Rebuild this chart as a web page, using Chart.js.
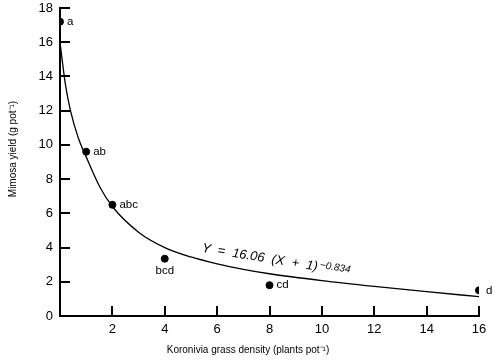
<!DOCTYPE html>
<html><head><meta charset="utf-8">
<script src="https://cdn.jsdelivr.net/npm/chart.js@4/dist/chart.umd.min.js"></script>
<style>html,body{margin:0;padding:0;background:#fff;}#wrap{width:500px;height:362px;}</style>
</head><body><div id="wrap"><canvas id="c" width="500" height="362"></canvas></div>
<script>
// Observed means
const densities = [0, 1, 2, 4, 8, 16];
const yields = [17.2, 9.6, 6.5, 3.35, 1.8, 1.5];
const letters = ['a', 'ab', 'abc', 'bcd', 'cd', 'd'];
// Fitted curve
const curveX = [0, 0.2, 0.4, 0.7, 1, 1.5, 2, 3, 4, 5, 6, 7, 8, 10, 12, 14, 16];
const curveY = [16.0, 13.6, 12.0, 10.4, 9.3, 7.6, 6.4, 4.9, 4.0, 3.45, 3.05, 2.73, 2.47, 2.07, 1.73, 1.42, 1.13];
const xTicks = [2, 4, 6, 8, 10, 12, 14, 16];
const yTicks = [0, 2, 4, 6, 8, 10, 12, 14, 16, 18];
const equationMain = 'Y  =  16.06  (X  +  1)';
const equationExp = '\u22120.834';
const equationAnchor = [5.4, 3.75];
const yTitle = 'Mimosa yield (g pot\u207B\u00B9)';
const xTitle = 'Koronivia grass density (plants pot\u207B\u00B9)';

const FONT = '"Liberation Sans", Arial, sans-serif';

const decor = {
  id: 'decor',
  afterDraw(chart) {
    const ctx = chart.ctx, xs = chart.scales.x, ys = chart.scales.y;
    const x0 = xs.getPixelForValue(0), y0 = ys.getPixelForValue(0);
    ctx.save();
    ctx.strokeStyle = '#000'; ctx.lineWidth = 2;
    // inward ticks
    yTicks.forEach(v => { if (v === 0) return; const p = Math.round(ys.getPixelForValue(v)); ctx.beginPath(); ctx.moveTo(x0, p); ctx.lineTo(x0 + 10, p); ctx.stroke(); });
    xTicks.forEach(v => { const p = Math.round(xs.getPixelForValue(v)); ctx.beginPath(); ctx.moveTo(p, y0); ctx.lineTo(p, y0 - 10); ctx.stroke(); });
    // point letters
    ctx.fillStyle = '#000';
    ctx.font = '11.5px ' + FONT;
    densities.forEach((d, i) => {
      const px = xs.getPixelForValue(d), py = ys.getPixelForValue(yields[i]);
      if (letters[i] === 'bcd') { ctx.textAlign = 'center'; ctx.textBaseline = 'top'; ctx.fillText(letters[i], px, py + 6); }
      else { ctx.textAlign = 'left'; ctx.textBaseline = 'middle'; ctx.fillText(letters[i], px + 7, py); }
    });
    // equation
    const ex = xs.getPixelForValue(equationAnchor[0]), ey = ys.getPixelForValue(equationAnchor[1]);
    ctx.translate(ex, ey); ctx.rotate(0.16);
    ctx.textAlign = 'left'; ctx.textBaseline = 'alphabetic';
    ctx.font = 'italic 13px ' + FONT;
    ctx.fillText(equationMain, 0, 0);
    const w = ctx.measureText(equationMain).width;
    ctx.font = 'italic 10px ' + FONT;
    ctx.fillText(equationExp, w + 2, -3);
    ctx.setTransform(1, 0, 0, 1, 0, 0);
    // axis titles
    ctx.font = '10px ' + FONT;
    ctx.textAlign = 'center'; ctx.textBaseline = 'middle';
    ctx.fillText(xTitle, 248, 350);
    ctx.translate(13, 149); ctx.rotate(-Math.PI / 2);
    ctx.fillText(yTitle, 0, 0);
    ctx.restore();
  }
};

new Chart(document.getElementById('c'), {
  data: {
    datasets: [
      { type: 'line', data: curveX.map((x, i) => ({ x, y: curveY[i] })), borderColor: '#000', borderWidth: 1.3, pointRadius: 0, cubicInterpolationMode: 'monotone', fill: false },
      { type: 'scatter', data: densities.map((x, i) => ({ x, y: yields[i] })), backgroundColor: '#000', borderColor: '#000', pointRadius: 3.5 }
    ]
  },
  options: {
    responsive: false, animation: false, devicePixelRatio: 1,
    layout: { padding: { top: 8, right: 21, left: 0, bottom: 0 } },
    plugins: { legend: { display: false }, tooltip: { enabled: false } },
    scales: {
      x: {
        type: 'linear', min: 0, max: 16,
        afterFit(s) { s.height = 46; s.paddingLeft = 0; s.paddingRight = 0; },
        afterBuildTicks(s) { s.ticks = xTicks.map(v => ({ value: v })); },
        grid: { display: false, drawTicks: false },
        border: { color: '#000', width: 2 },
        ticks: { color: '#000', font: { family: FONT, size: 13 }, padding: 6, maxRotation: 0 }
      },
      y: {
        type: 'linear', min: 0, max: 18,
        afterFit(s) { s.width = 60; s.paddingTop = 0; s.paddingBottom = 0; },
        afterBuildTicks(s) { s.ticks = yTicks.map(v => ({ value: v })); },
        grid: { display: false, drawTicks: false },
        border: { color: '#000', width: 2 },
        ticks: { color: '#000', font: { family: FONT, size: 13 }, padding: 7 }
      }
    }
  },
  plugins: [decor]
});
</script></body></html>
